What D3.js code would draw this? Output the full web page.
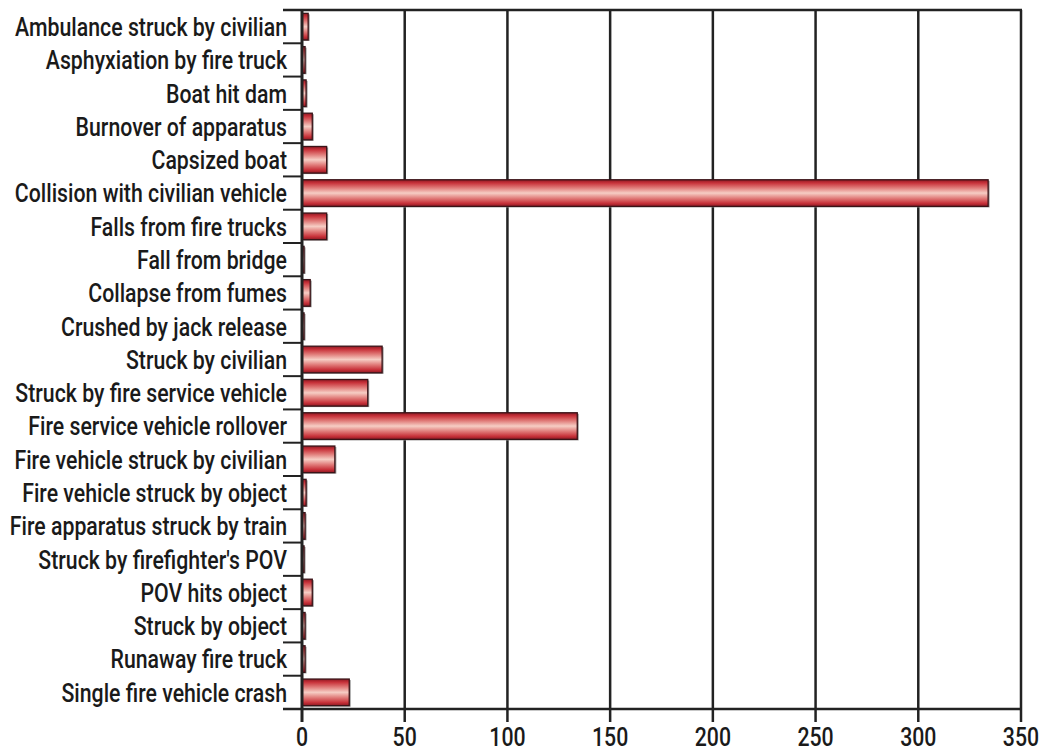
<!DOCTYPE html>
<html>
<head>
<meta charset="utf-8">
<script src="https://cdn.jsdelivr.net/npm/d3@7"></script>
<style>
  body { margin: 0; background: #fff; }
  text { font-family: Roboto, "DejaVu Sans", sans-serif; font-weight: 500; fill: #1a1a1a; }
</style>
</head>
<body>
<div id="chart"></div>
<script>
// categories, top to bottom
var categories = [
  "Ambulance struck by civilian",
  "Asphyxiation by fire truck",
  "Boat hit dam",
  "Burnover of apparatus",
  "Capsized boat",
  "Collision with civilian vehicle",
  "Falls from fire trucks",
  "Fall from bridge",
  "Collapse from fumes",
  "Crushed by jack release",
  "Struck by civilian",
  "Struck by fire service vehicle",
  "Fire service vehicle rollover",
  "Fire vehicle struck by civilian",
  "Fire vehicle struck by object",
  "Fire apparatus struck by train",
  "Struck by firefighter's POV",
  "POV hits object",
  "Struck by object",
  "Runaway fire truck",
  "Single fire vehicle crash"
];

// deaths per category
var deaths = [3, 1.5, 2, 5, 12, 334, 12, 1, 4, 1, 39, 32, 134, 16, 2, 1.5, 1, 5, 1.5, 1.5, 23];

var xTicks = [0, 50, 100, 150, 200, 250, 300, 350];

var width = 1045, height = 752;
var margin = { top: 10, right: 24, bottom: 43, left: 302 };
var w = width - margin.left - margin.right;
var h = height - margin.top - margin.bottom;

var svg = d3.select("#chart").append("svg")
  .attr("width", width)
  .attr("height", height);

// bar gradient, dark edges and a light stripe in the middle
var defs = svg.append("defs");
var grad = defs.append("linearGradient")
  .attr("id", "barGrad")
  .attr("x1", 0).attr("y1", 0).attr("x2", 0).attr("y2", 1);
[[0, "#8e1822"], [0.12, "#c8323a"], [0.3, "#e07a78"], [0.5, "#f6cdc4"],
 [0.7, "#e07a78"], [0.88, "#c8323a"], [1, "#8e1822"]].forEach(function(s) {
  grad.append("stop").attr("offset", s[0]).attr("stop-color", s[1]);
});

var g = svg.append("g")
  .attr("transform", "translate(" + margin.left + "," + margin.top + ")");

var x = d3.scaleLinear().domain([0, 350]).range([0, w]);
var y = d3.scaleBand().domain(categories).range([0, h]).paddingInner(0.2).paddingOuter(0.1);

// vertical grid lines, also stick below the axis as ticks
g.append("g")
  .selectAll("line")
  .data(xTicks.slice(1))
  .enter().append("line")
  .attr("x1", function(d) { return x(d); })
  .attr("x2", function(d) { return x(d); })
  .attr("y1", 0)
  .attr("y2", h + 13)
  .attr("stroke", "#222")
  .attr("stroke-width", 2.5);

// top frame line
g.append("line")
  .attr("x1", -19).attr("x2", w + 1)
  .attr("y1", 0).attr("y2", 0)
  .attr("stroke", "#222")
  .attr("stroke-width", 2.5);

// bottom axis line
g.append("line")
  .attr("x1", -19).attr("x2", w + 1)
  .attr("y1", h).attr("y2", h)
  .attr("stroke", "#222")
  .attr("stroke-width", 2.5);

// category separators on the left
g.append("g")
  .selectAll("line")
  .data(d3.range(1, categories.length))
  .enter().append("line")
  .attr("x1", -19).attr("x2", 0)
  .attr("y1", function(i) { return h * i / categories.length; })
  .attr("y2", function(i) { return h * i / categories.length; })
  .attr("stroke", "#222")
  .attr("stroke-width", 2);

// bars
var bars = g.append("g")
  .selectAll("g")
  .data(categories)
  .enter().append("g");

bars.append("rect")
  .attr("x", 1.5)
  .attr("y", function(d) { return y(d) + 1; })
  .attr("width", function(d, i) { return x(deaths[i]); })
  .attr("height", y.bandwidth())
  .attr("fill", "#9a9a9a");

bars.append("rect")
  .attr("x", 0)
  .attr("y", function(d) { return y(d); })
  .attr("width", function(d, i) { return x(deaths[i]); })
  .attr("height", y.bandwidth())
  .attr("fill", "url(#barGrad)")
  .attr("stroke", "#3a1418")
  .attr("stroke-width", 1.3);

// y axis line at zero
g.append("line")
  .attr("x1", 0).attr("x2", 0)
  .attr("y1", 0).attr("y2", h + 13)
  .attr("stroke", "#222")
  .attr("stroke-width", 3);

// condensed look: squeeze text horizontally so the first label is ~272px wide
var fontSize = 26;
var probe = g.append("text").style("font-size", fontSize + "px").text(categories[0]);
var sx = 272 / probe.node().getComputedTextLength();
probe.remove();

// category labels
g.append("g")
  .selectAll("text")
  .data(categories)
  .enter().append("text")
  .attr("transform", function(d) {
    return "translate(-15," + (y(d) + y.bandwidth() / 2) + ") scale(" + sx + ",1)";
  })
  .attr("dy", "0.36em")
  .attr("text-anchor", "end")
  .style("font-size", fontSize + "px")
  .text(function(d) { return d; });

// tick labels
g.append("g")
  .selectAll("text")
  .data(xTicks)
  .enter().append("text")
  .attr("transform", function(d) {
    return "translate(" + x(d) + "," + (h + 37) + ") scale(" + sx + ",1)";
  })
  .attr("text-anchor", "middle")
  .style("font-size", fontSize + "px")
  .text(function(d) { return d; });
</script>
</body>
</html>
